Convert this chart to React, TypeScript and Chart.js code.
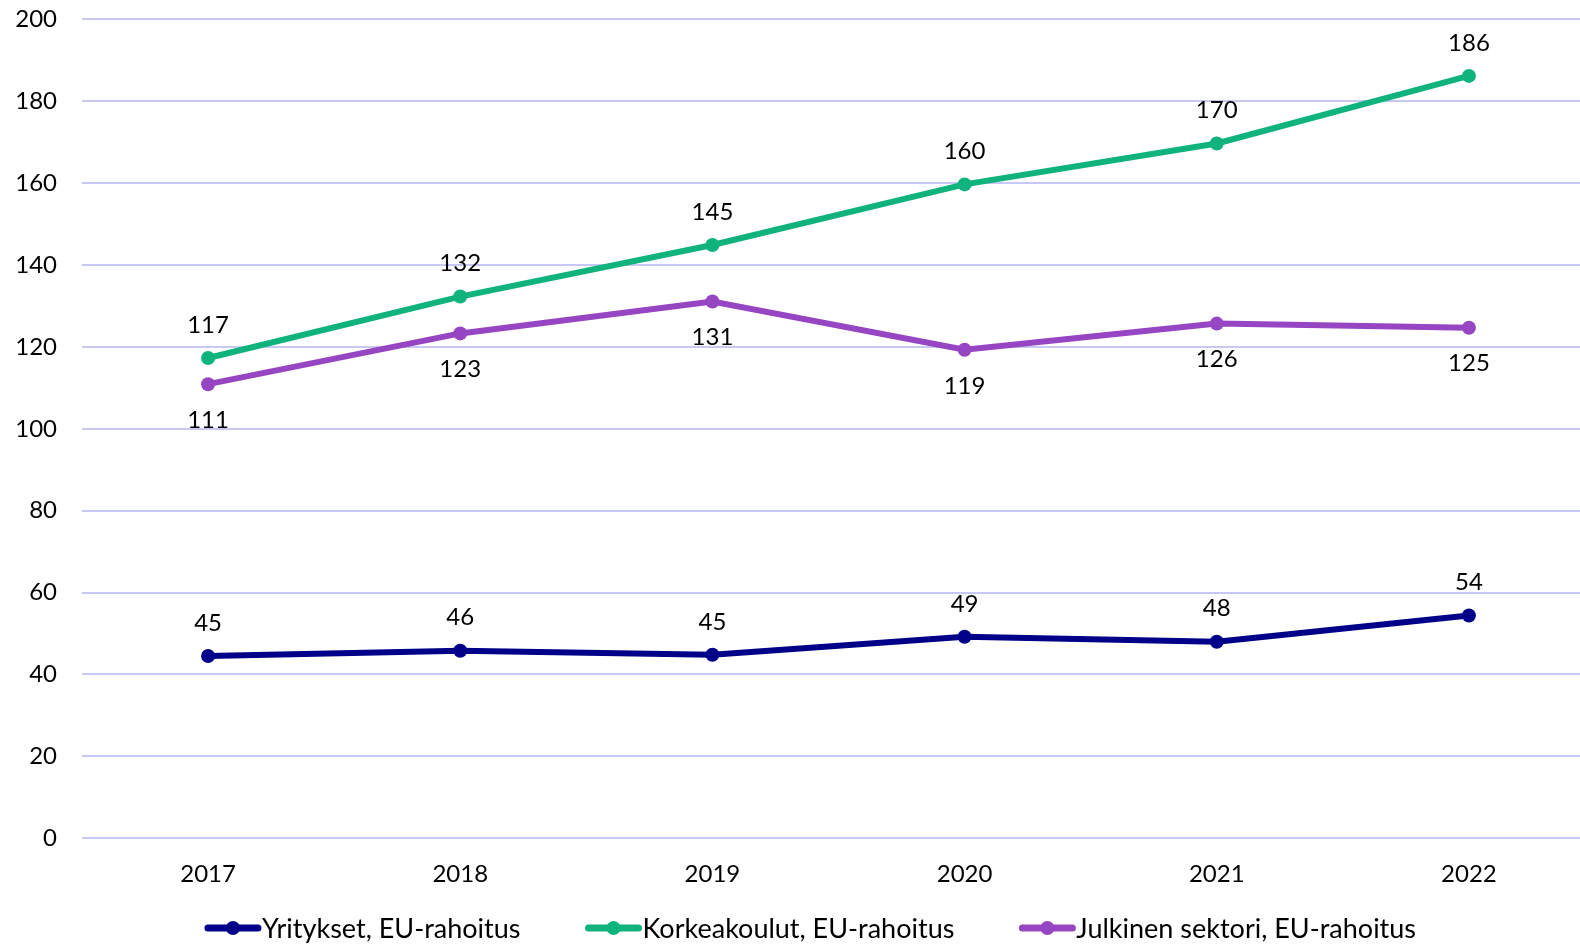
import React, { useEffect, useRef } from "react";
import { Chart, registerables } from "chart.js";

Chart.register(...registerables);

const years = ["2017", "2018", "2019", "2020", "2021", "2022"];
const yritykset = [44.5, 45.8, 44.8, 49.2, 48.0, 54.4];
const korkeakoulut = [117.3, 132.3, 144.9, 159.7, 169.7, 186.2];
const julkinen = [110.9, 123.3, 131.1, 119.3, 125.7, 124.7];
const seriesNames = [
  "Yritykset, EU-rahoitus",
  "Korkeakoulut, EU-rahoitus",
  "Julkinen sektori, EU-rahoitus",
];
const colors = ["#000088", "#10b37c", "#9645c3"];
const labelSide = ["above", "above", "below"];

const FONT = "Lato, 'Open Sans', sans-serif";
const FS = 24;
const SHIFT = 20;

const labelsPlugin = {
  id: "valueLabels",
  afterDatasetsDraw(chart: any) {
    const ctx = chart.ctx;
    ctx.save();
    ctx.font = `${FS}px ${FONT}`;
    ctx.fillStyle = "#000";
    ctx.textAlign = "center";
    ctx.textBaseline = "middle";
    chart.data.datasets.forEach((ds: any, i: number) => {
      const meta = chart.getDatasetMeta(i);
      meta.data.forEach((pt: any, j: number) => {
        const v = Math.round(ds.data[j]);
        const dy = labelSide[i] === "above" ? -33 : 36;
        ctx.fillText(String(v), pt.x, pt.y + dy);
      });
    });
    ctx.restore();
  },
};

const legendPlugin = {
  id: "customLegend",
  afterDraw(chart: any) {
    const ctx = chart.ctx;
    ctx.save();
    ctx.font = `27px ${FONT}`;
    const lineW = 58;
    const gap = 64;
    const widths = seriesNames.map((n) => ctx.measureText(n).width);
    const total = widths.reduce((a, w) => a + lineW + w, 0) + gap * (seriesNames.length - 1);
    let x = 810 - total / 2;
    const y = 928 + SHIFT;
    seriesNames.forEach((n, i) => {
      ctx.strokeStyle = colors[i];
      ctx.lineWidth = 7;
      ctx.lineCap = "round";
      ctx.beginPath();
      ctx.moveTo(x + 4, y);
      ctx.lineTo(x + lineW - 4, y);
      ctx.stroke();
      ctx.fillStyle = colors[i];
      ctx.beginPath();
      ctx.arc(x + lineW / 2, y, 7, 0, Math.PI * 2);
      ctx.fill();
      ctx.fillStyle = "#000";
      ctx.textAlign = "left";
      ctx.textBaseline = "middle";
      ctx.fillText(n, x + lineW, y + 1);
      x += lineW + widths[i] + gap;
    });
    ctx.restore();
  },
};

export default function App() {
  const ref = useRef<HTMLCanvasElement>(null);
  useEffect(() => {
    document.body.style.margin = "0";
    const chart = new Chart(ref.current!, {
      type: "line",
      data: {
        labels: years,
        datasets: [yritykset, korkeakoulut, julkinen].map((d, i) => ({
          label: seriesNames[i],
          data: d,
          borderColor: colors[i],
          backgroundColor: colors[i],
          borderWidth: 6,
          pointRadius: 7,
          pointHoverRadius: 7,
          pointBackgroundColor: colors[i],
          pointBorderWidth: 0,
          tension: 0,
        })),
      },
      options: {
        responsive: false,
        animation: false,
        devicePixelRatio: 1,
        layout: { padding: { top: 0, bottom: 43, left: 0, right: 0 } },
        plugins: { legend: { display: false }, tooltip: { enabled: false } },
        scales: {
          x: {
            offset: true,
            grid: { display: false },
            border: { display: false },
            ticks: { color: "#000", font: { family: FONT, size: FS }, padding: 14 },
          },
          y: {
            min: 0,
            max: 200,
            afterFit(scale: any) {
              scale.width = 82;
            },
            ticks: {
              stepSize: 20,
              color: "#000",
              font: { family: FONT, size: FS },
              padding: 25,
            },
            grid: { color: "#c8c8f4", lineWidth: 2, drawTicks: false },
            border: { display: false },
          },
        },
      },
      plugins: [labelsPlugin, legendPlugin],
    });
    return () => chart.destroy();
  }, []);
  return (
    <div style={{ position: "absolute", left: 0, top: 0, width: 1580, height: 946, overflow: "hidden" }}>
      <canvas
        ref={ref}
        width={1602}
        height={946 + SHIFT}
        style={{ display: "block", marginTop: -SHIFT }}
      />
    </div>
  );
}
